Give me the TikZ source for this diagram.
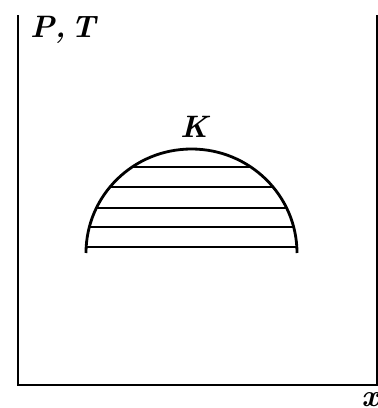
\documentclass[tikz,border=0pt]{standalone}
\usepackage{fontspec}
\begin{document}
\begin{tikzpicture}[x=1pt,y=-1pt,
  axis/.style={line width=2.6pt},
  dome/.style={line width=2.8pt},
  tie/.style={line width=1.6pt},
  lbl/.style={font=\fontsize{31}{34}\selectfont\bfseries\itshape, inner sep=0pt}]
\useasboundingbox (0,0) rectangle (378,408);
\coordinate (tl) at (18,15);
\coordinate (bl) at (18,385);
\coordinate (br) at (377,385);
\coordinate (tr) at (377,15);
\draw[axis] (tl) -- (bl) -- (br) -- (tr);
\node[lbl, anchor=west] (pt) at (30,30) {P,\,T};
\node[lbl] (xl) at (370,400) {x};
\node[lbl] (k) at (194,127) {K};
% dome
\coordinate (dl) at (86,253);
\draw[dome] (dl) arc[start angle=180, end angle=360, x radius=105.5, y radius=104];
% tie lines
\begin{scope}
\clip (86,252) arc[start angle=180, end angle=360, x radius=105.5, y radius=104] -- cycle;
\foreach \yy/\n in {167/a,187/b,208/c,227/d,247/e}{
  \coordinate (L\n) at (80,\yy);
  \coordinate (R\n) at (300,\yy);
  \draw[tie] (L\n) -- (R\n);
}
\end{scope}
\end{tikzpicture}
\end{document}
